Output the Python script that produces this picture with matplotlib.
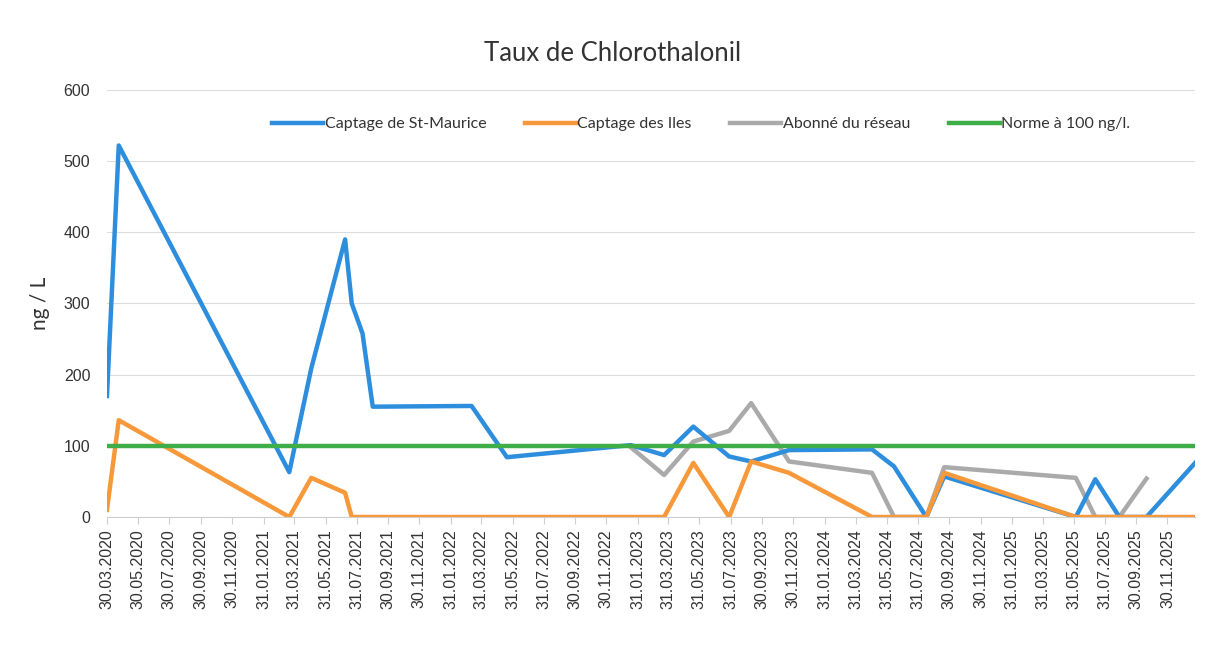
import matplotlib.pyplot as plt
import pandas as pd

# Data
Dates = ["30.03.2020", "22.04.2020", "21.03.2021", "03.05.2021", "08.07.2021",
         "21.07.2021", "11.08.2021", "31.08.2021", "12.03.2022", "20.05.2022",
         "17.01.2023", "23.03.2023", "19.05.2023", "28.07.2023", "09.09.2023",
         "22.11.2023", "02.05.2024", "14.06.2024", "16.08.2024", "20.09.2024",
         "04.06.2025", "12.07.2025", "28.08.2025", "20.10.2025", "23.01.2026"]

StMaurice = [170, 522, 63, 209, 390, 300, 258, 155, 156, 84,
             101, 87, 127, 85, 78, 94, 95, 71, 0, 57,
             0, 53, 0, 0, 76]
Iles = [10, 136, 0, 55, 34, 0, 0, 0, 0, 0,
        0, 0, 76, 0, 78, 62, 0, 0, 0, 62,
        0, 0, 0, 0, 0]
Abonne = [None] * 10 + [98, 59, 106, 121, 160, 78, 62, 0, 0, 70,
                        55, 0, 0, 54, None]
Norme = [100] * len(Dates)

TickLabels = ["30.03.2020", "30.05.2020", "30.07.2020", "30.09.2020", "30.11.2020",
              "31.01.2021", "31.03.2021", "31.05.2021", "31.07.2021", "30.09.2021",
              "30.11.2021", "31.01.2022", "31.03.2022", "31.05.2022", "31.07.2022",
              "30.09.2022", "30.11.2022", "31.01.2023", "31.03.2023", "31.05.2023",
              "31.07.2023", "30.09.2023", "30.11.2023", "31.01.2024", "31.03.2024",
              "31.05.2024", "31.07.2024", "30.09.2024", "30.11.2024", "31.01.2025",
              "31.03.2025", "31.05.2025", "31.07.2025", "30.09.2025", "30.11.2025"]

df = pd.DataFrame({"date": pd.to_datetime(Dates, format="%d.%m.%Y"),
                   "stmaurice": StMaurice, "iles": Iles,
                   "abonne": pd.array(Abonne, dtype="Float64").astype(float),
                   "norme": Norme})
Ticks = pd.to_datetime(TickLabels, format="%d.%m.%Y")

fig = plt.figure(figsize=(12.06, 6.64), dpi=100)
ax = fig.add_axes([0.0887, 0.2214, 0.9023, 0.6431])

LW = 3.2
ax.plot(df["date"], df["stmaurice"], color="#2e8ede", lw=LW, label="Captage de St-Maurice", zorder=3)
ax.plot(df["date"], df["iles"], color="#f7993a", lw=LW, label="Captage des Iles", zorder=4)
ax.plot(df["date"], df["abonne"], color="#aaaaaa", lw=LW, label="Abonné du réseau", zorder=2)
ax.plot(df["date"], df["norme"], color="#3fae49", lw=LW, label="Norme à 100 ng/l.", zorder=5)

# Axes formatting
ax.set_xlim(df["date"].min(), df["date"].max())
ax.set_ylim(0, 600)
ax.set_yticks(range(0, 601, 100))
ax.set_xticks(Ticks)
ax.set_xticklabels(TickLabels, rotation=90, fontsize=11.5, family="Liberation Sans", color="#333333")
for lab in ax.get_yticklabels():
    lab.set_fontsize(11.5)
    lab.set_family("Liberation Sans")
    lab.set_color("#333333")

ax.grid(axis="y", color="#dcdcdc", lw=0.8)
ax.set_axisbelow(True)
for side in ["top", "right", "left"]:
    ax.spines[side].set_visible(False)
ax.spines["bottom"].set_color("#cfcfcf")
ax.tick_params(axis="y", length=0, pad=12)
ax.tick_params(axis="x", length=5, color="#cfcfcf", pad=4)

ax.set_ylabel("ng / L", fontsize=15, family="Lato", color="#333333", labelpad=10)
fig.suptitle("Taux de Chlorothalonil", fontsize=18.5, family="Lato", color="#333333", x=0.508, y=0.938)

ax.legend(loc="center", bbox_to_anchor=(0.546, 0.92), ncol=4, frameon=False,
          prop={"family": "Lato", "size": 11.5}, handlelength=3.2, handletextpad=0.1,
          columnspacing=2.4, labelcolor="#333333")

fig.savefig("out.png", dpi=100, facecolor="white")
